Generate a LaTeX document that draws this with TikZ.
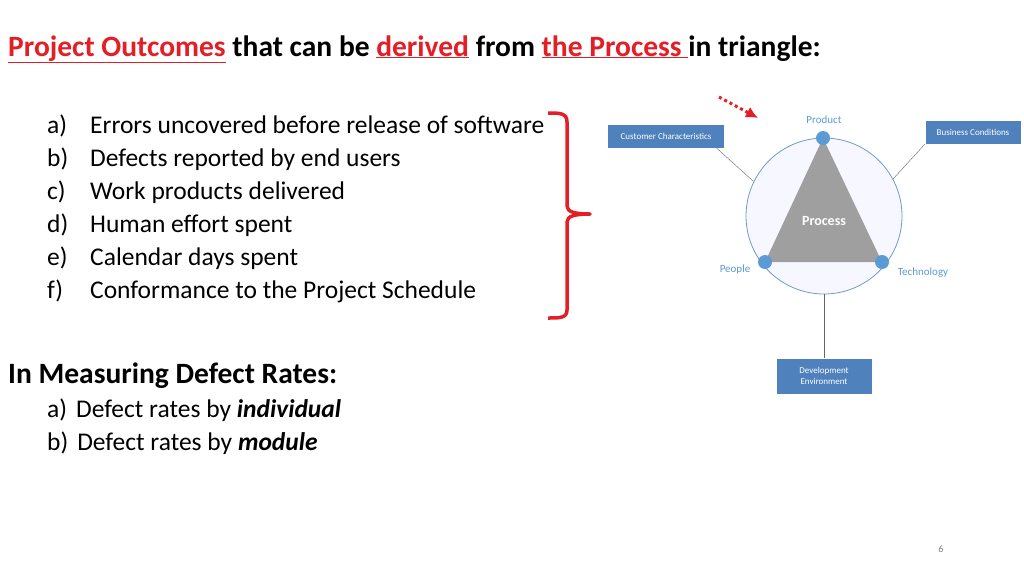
\documentclass[tikz,border=0pt]{standalone}
\usepackage{fontspec}
\setmainfont{Carlito}
\usetikzlibrary{arrows.meta}
\begin{document}
\begin{tikzpicture}[x=1pt,y=-1pt,
  item/.style={anchor=base west,font=\fontsize{25.5}{30}\selectfont,inner sep=0pt},
  bluebox/.style={draw=white,fill=boxblue,text=white,font=\fontsize{9}{11}\selectfont,align=center,inner sep=2pt},
  dot/.style={circle,fill=dotblue,inner sep=0pt,minimum size=14pt},
  vlabel/.style={text=dotblue,font=\fontsize{11}{13}\selectfont}]
\definecolor{boxblue}{HTML}{4F81BD}
\definecolor{dotblue}{HTML}{5B9BD5}
\definecolor{cred}{HTML}{E41E26}
\useasboundingbox (0,0) rectangle (1024,576);
\node[anchor=base west,inner sep=0pt,font=\bfseries\fontsize{29.5}{34}\selectfont] (title) at (8,56)
 {\textcolor{cred}{\underline{Project Outcomes}} that can be \textcolor{cred}{\underline{derived}} from \textcolor{cred}{\underline{the Process\ }}in triangle:};
\foreach \l/\t/\y/\n in {a)/Errors uncovered before release of software/133/i1,b)/Defects reported by end users/166/i2,c)/Work products delivered/199/i3,d)/Human effort spent/232/i4,e)/Calendar days spent/265/i5,f)/Conformance to the Project Schedule/298/i6}{
  \node[item] (\n l) at (47,\y) {\l};
  \node[item] (\n) at (90,\y) {\t};
}
\draw[cred,line width=3.5pt,line join=round] (548,113) .. controls (560,113) and (567,113) .. (567,122) -- (567,206) .. controls (567,212) and (575,214) .. (590,214) .. controls (575,214) and (567,216) .. (567,222) -- (567,310) .. controls (567,318) and (560,318) .. (548,318);
\node[anchor=base west,inner sep=0pt,font=\bfseries\fontsize{29.5}{34}\selectfont] (dh) at (8,383) {In Measuring Defect Rates:};
\node[item] (m1) at (47,417) {a)\hspace{9pt}Defect rates by \textbf{\textit{individual}}};
\node[item] (m2) at (47,450) {b)\hspace{9pt}Defect rates by \textbf{\textit{module}}};
% diagram
\coordinate (c) at (824,216);
\fill[blue!3] (c) circle (78);
\draw[boxblue!80,line width=0.8pt] (c) circle (78) ;
\coordinate (tp) at (823,138);
\coordinate (tl) at (765,262);
\coordinate (tr) at (882,262);
\fill[gray!75] (tp) -- (tr) -- (tl) -- cycle;
\node[text=white,font=\bfseries\fontsize{14}{16}\selectfont] (proc) at (824,221) {Process};
\node[dot] (dp) at (tp) {};
\node[dot] (dl) at (tl) {};
\node[dot] (dr) at (tr) {};
\node[vlabel] (lp) at (824,120) {Product};
\node[vlabel] (ll) at (735,270) {People};
\node[vlabel] (lr) at (923,273) {Technology};
\node[bluebox,minimum width=117pt,minimum height=24pt] (cc) at (666,136) {Customer Characteristics};
\node[bluebox,minimum width=96pt,minimum height=24pt] (bc) at (973,132) {Business Conditions};
\node[bluebox,minimum width=96pt,minimum height=36pt] (de) at (824,376) {Development\\Environment};
\coordinate (p1) at (753,181);
\coordinate (p2) at (893,179);
\coordinate (p3) at (824,294);
\draw[gray!80!black] (cc.south east) ++(-8,0) -- (p1);
\draw[gray!80!black] (bc.south west) -- (p2);
\draw[gray!80!black] (p3) -- (de.north);
\coordinate (a1) at (719,97);
\coordinate (a2) at (758,118);
\draw[cred,line width=3pt,dash pattern=on 3pt off 3pt,-{Latex[length=12pt,width=12pt]}] (a1) -- (a2);
\node[text=gray,font=\fontsize{10}{12}\selectfont] (pg) at (941,549) {6};
\end{tikzpicture}
\end{document}
